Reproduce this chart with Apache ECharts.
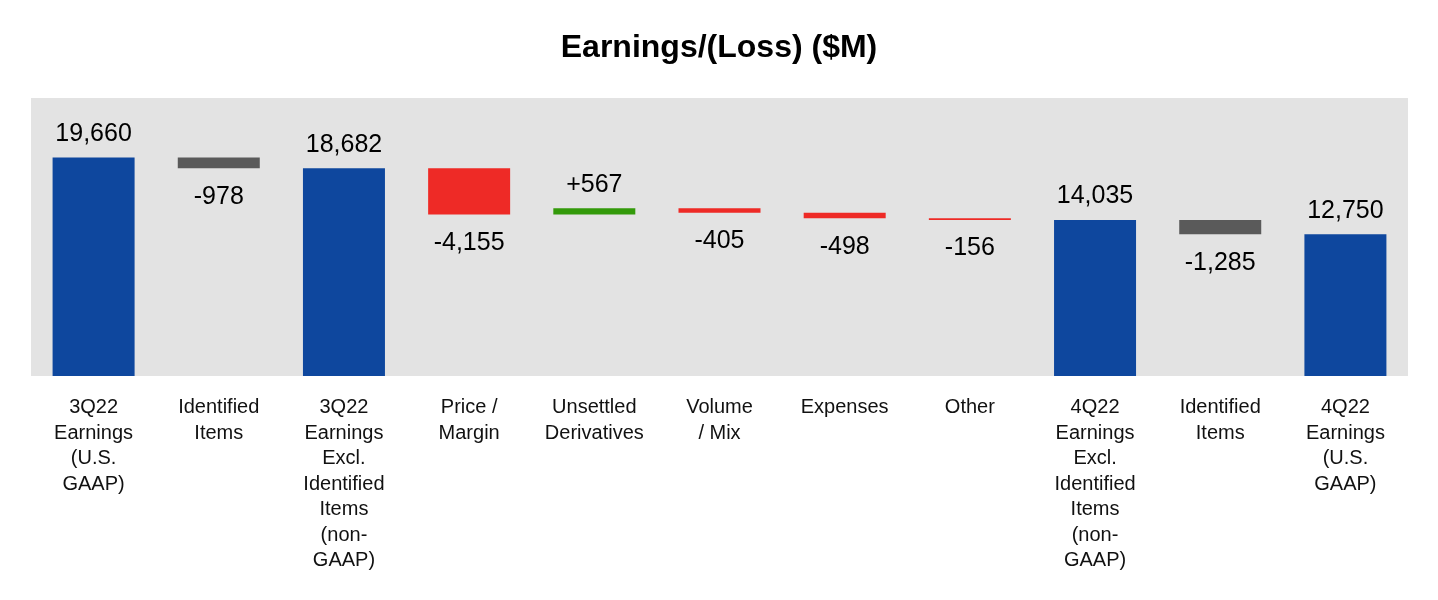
<!DOCTYPE html>
<html>
<head>
<meta charset="utf-8">
<script src="https://cdn.jsdelivr.net/npm/echarts@6/dist/echarts.min.js"></script>
<style>
  html, body { margin: 0; padding: 0; background: #fff; }
  #chart { width: 1438px; height: 600px; }
</style>
</head>
<body>
<div id="chart"></div>
<script>
// categories (line breaks as on the slide)
var categories = [
  '3Q22\nEarnings\n(U.S.\nGAAP)',
  'Identified\nItems',
  '3Q22\nEarnings\nExcl.\nIdentified\nItems\n(non-\nGAAP)',
  'Price /\nMargin',
  'Unsettled\nDerivatives',
  'Volume\n/ Mix',
  'Expenses',
  'Other',
  '4Q22\nEarnings\nExcl.\nIdentified\nItems\n(non-\nGAAP)',
  'Identified\nItems',
  '4Q22\nEarnings\n(U.S.\nGAAP)'
];
// change per step; totals are marked in kinds
var values = [19660, -978, 18682, -4155, 567, -405, -498, -156, 14035, -1285, 12750];
// total | identified | up | down
var kinds = ['total', 'ident', 'total', 'down', 'up', 'down', 'down', 'down', 'total', 'ident', 'total'];

var colors = {
  total: '#0e479e',
  ident: '#5a5a5a',
  up: '#339a0a',
  down: '#ee2a26'
};

var fmt = function (v) {
  return Math.abs(v).toLocaleString('en-US');
};

// build transparent base + visible part
var baseData = [];
var showData = [];
var running = 0;
values.forEach(function (v, i) {
  var k = kinds[i];
  var base, len, text, pos;
  if (k === 'total') {
    base = 0;
    len = v;
    running = v;
    text = fmt(v);
    pos = 'top';
  } else if (v < 0) {
    base = running + v;
    len = -v;
    running = running + v;
    text = '-' + fmt(v);
    pos = 'bottom';
  } else {
    base = running;
    len = v;
    running = running + v;
    text = '+' + fmt(v);
    pos = 'top';
  }
  baseData.push(base);
  showData.push({
    value: len,
    itemStyle: { color: colors[k] },
    label: { show: true, position: pos, formatter: text, distance: pos === 'top' ? 11 : 16 }
  });
});

var chart = echarts.init(document.getElementById('chart'));
chart.setOption({
  animation: false,
  title: {
    text: 'Earnings/(Loss) ($M)',
    left: 'center',
    top: 27,
    textStyle: { fontFamily: 'Liberation Sans, Arial', fontSize: 32, fontWeight: 'bold', color: '#000' }
  },
  grid: {
    left: 31,
    right: 30,
    top: 98,
    bottom: 224,
    show: true,
    backgroundColor: '#e3e3e3',
    borderWidth: 0
  },
  xAxis: {
    type: 'category',
    data: categories,
    axisLine: { show: false },
    axisTick: { show: false },
    axisLabel: {
      interval: 0,
      margin: 19,
      fontFamily: 'Liberation Sans, Arial',
      fontSize: 20,
      lineHeight: 25.5,
      color: '#111'
    }
  },
  yAxis: {
    type: 'value',
    min: 0,
    max: 25000,
    show: false,
    splitLine: { show: false }
  },
  series: [
    {
      type: 'bar',
      stack: 'w',
      data: baseData,
      barWidth: 82,
      itemStyle: { color: 'transparent' },
      silent: true
    },
    {
      type: 'bar',
      stack: 'w',
      data: showData,
      barWidth: 82,
      label: {
        fontFamily: 'Liberation Sans, Arial',
        fontSize: 25,
        color: '#000'
      }
    }
  ]
});
</script>
</body>
</html>
